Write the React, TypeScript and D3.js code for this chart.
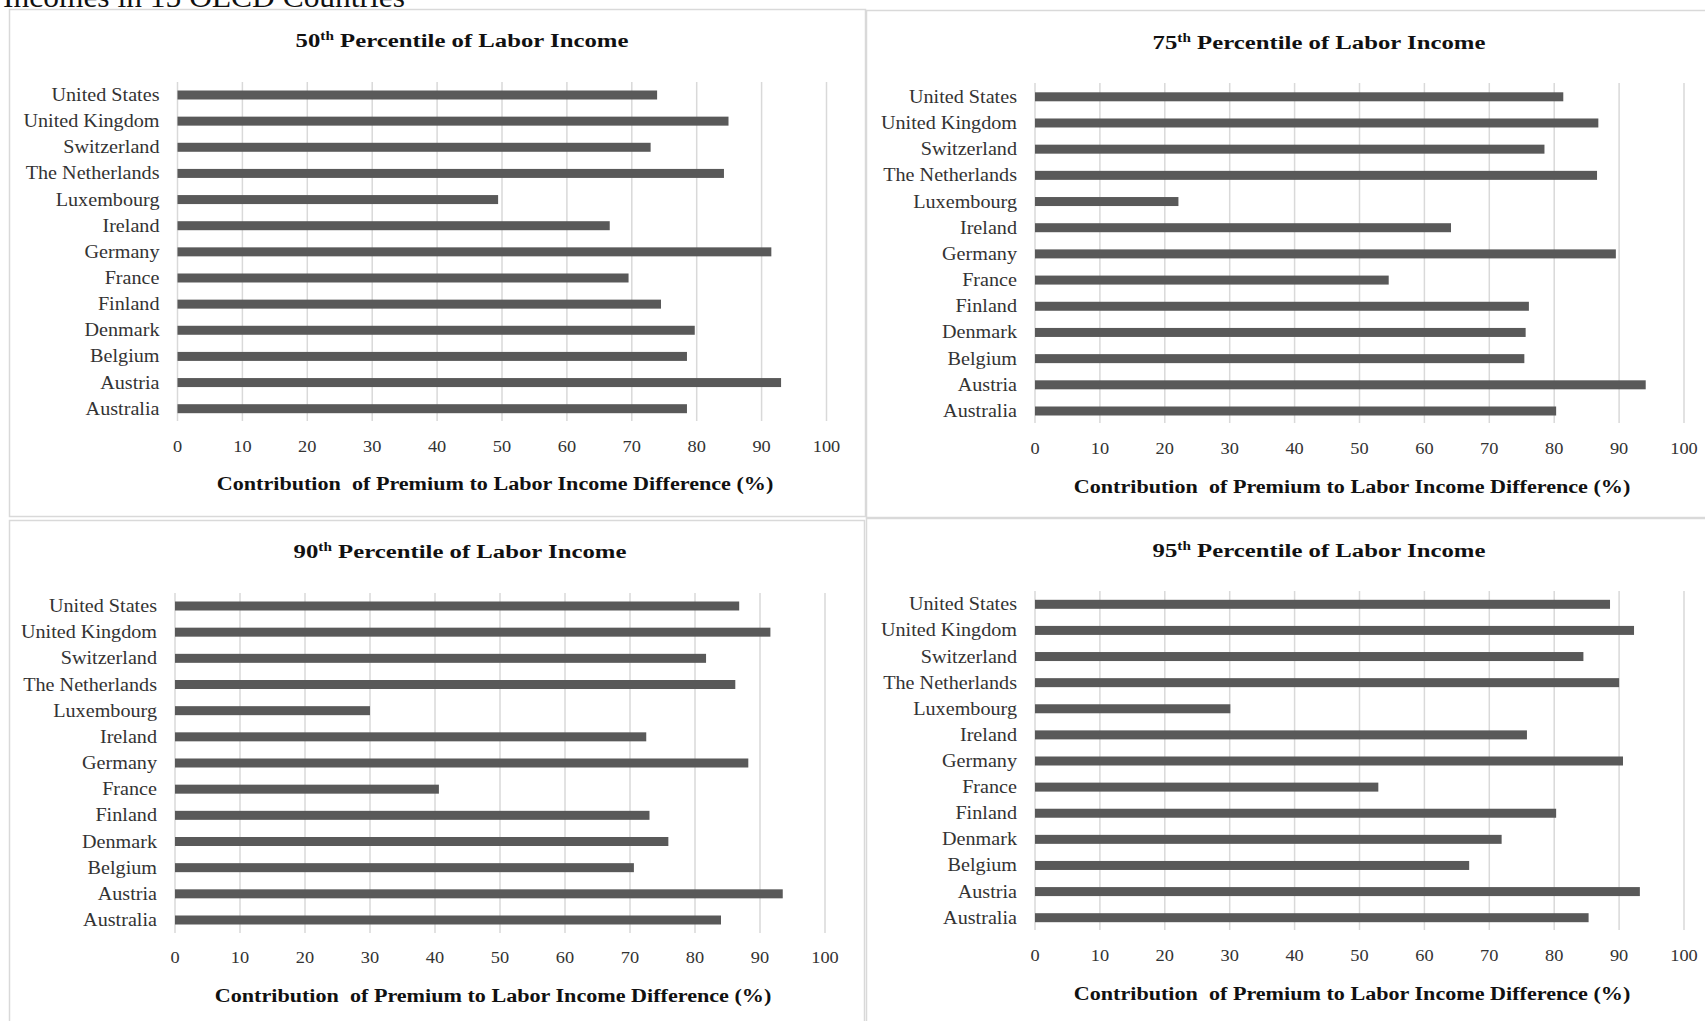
import React from "react";
import * as d3 from "d3";

const countries = [
  "United States",
  "United Kingdom",
  "Switzerland",
  "The Netherlands",
  "Luxembourg",
  "Ireland",
  "Germany",
  "France",
  "Finland",
  "Denmark",
  "Belgium",
  "Austria",
  "Australia",
];
const p50 = [73.9, 84.9, 72.9, 84.2, 49.4, 66.6, 91.5, 69.5, 74.5, 79.7, 78.5, 93.0, 78.5];
const p75 = [81.4, 86.8, 78.5, 86.6, 22.1, 64.1, 89.5, 54.5, 76.1, 75.6, 75.4, 94.1, 80.3];
const p90 = [86.8, 91.6, 81.7, 86.2, 30.0, 72.5, 88.2, 40.6, 73.0, 75.9, 70.6, 93.5, 84.0];
const p95 = [88.6, 92.3, 84.5, 90.0, 30.1, 75.8, 90.6, 52.9, 80.3, 71.9, 66.9, 93.2, 85.3];
const xTicks = [0, 10, 20, 30, 40, 50, 60, 70, 80, 90, 100];
const percentileLabels = ["50", "75", "90", "95"];
const titleRest = " Percentile of Labor Income";
const xAxisTitle = "Contribution\u00a0 of Premium to Labor Income Difference (%)";
const pageHeading = "Incomes in 15 OECD Countries";

const FONT = "'Liberation Serif', 'Times New Roman', serif";
const BAR = "#595959";
const GRID = "#d9d9d9";

type Layout = {
  bx: number; by: number; bw: number; bh: number;
  x0: number; x1: number;
  yFirst: number; yLast: number;
  gTop: number; gBot: number;
  tickY: number; xTitleX: number; xTitleY: number;
  titleX: number; titleY: number;
};

const layouts: Layout[] = [
  { bx: 9.5, by: 9.5, bw: 856, bh: 507, x0: 177.5, x1: 826.5, yFirst: 95, yLast: 408.7, gTop: 82, gBot: 421, tickY: 452, xTitleX: 495, xTitleY: 490, titleX: 462, titleY: 47 },
  { bx: 866.5, by: 10.5, bw: 845, bh: 507, x0: 1035, x1: 1684, yFirst: 96.8, yLast: 411, gTop: 83, gBot: 423, tickY: 454, xTitleX: 1352, xTitleY: 493, titleX: 1319, titleY: 49 },
  { bx: 9.5, by: 520.5, bw: 855, bh: 510, x0: 175, x1: 825, yFirst: 606, yLast: 920, gTop: 593, gBot: 933, tickY: 963, xTitleX: 493, xTitleY: 1002, titleX: 460, titleY: 558 },
  { bx: 866.5, by: 518.5, bw: 845, bh: 510, x0: 1035, x1: 1684, yFirst: 604.3, yLast: 917.7, gTop: 591, gBot: 930, tickY: 961, xTitleX: 1352, xTitleY: 1000, titleX: 1319, titleY: 557 },
];

const series = [p50, p75, p90, p95];

function Panel({ values, label, L }: { values: number[]; label: string; L: Layout }) {
  const x = d3.scaleLinear().domain([0, 100]).range([L.x0, L.x1]);
  const y = d3.scalePoint<string>().domain(countries).range([L.yFirst, L.yLast]);
  const barH = 9;
  return (
    <g>
      <rect x={L.bx} y={L.by} width={L.bw} height={L.bh} fill="#fff" stroke={GRID} strokeWidth={1.5} />
      <text
        transform={`translate(${L.titleX},${L.titleY}) scale(1.27,1)`}
        textAnchor="middle"
        fontFamily={FONT}
        fontWeight="bold"
        fontSize={19.5}
        fill="#111"
      >
        {label}
        <tspan fontSize={12} dy={-7}>th</tspan>
        <tspan dy={7}>{titleRest}</tspan>
      </text>
      {xTicks.map((t) => (
        <line key={"g" + t} x1={x(t)} x2={x(t)} y1={L.gTop} y2={L.gBot} stroke={GRID} strokeWidth={1.5} />
      ))}
      {countries.map((c, i) => (
        <g key={c}>
          <rect x={x(0)} y={(y(c) as number) - barH / 2} width={x(values[i]) - x(0)} height={barH} fill={BAR} />
          <text
            transform={`translate(${L.x0 - 18},${(y(c) as number) + 6}) scale(1.12,1)`}
            textAnchor="end"
            fontFamily={FONT}
            fontSize={18}
            fill="#333"
          >
            {c}
          </text>
        </g>
      ))}
      {xTicks.map((t) => (
        <text
          key={"t" + t}
          transform={`translate(${x(t)},${L.tickY}) scale(1.08,1)`}
          textAnchor="middle"
          fontFamily={FONT}
          fontSize={17}
          fill="#333"
        >
          {t}
        </text>
      ))}
      <text
        transform={`translate(${L.xTitleX},${L.xTitleY}) scale(1.165,1)`}
        textAnchor="middle"
        fontFamily={FONT}
        fontWeight="bold"
        fontSize={19}
        fill="#111"
      >
        {xAxisTitle}
      </text>
    </g>
  );
}

export default function App() {
  return (
    <svg width={1705} height={1021} style={{ position: "absolute", left: 0, top: 0, background: "#fff" }}>
      <rect x={0} y={0} width={1705} height={1021} fill="#fff" />
      <text x={3} y={7} fontFamily={FONT} fontSize={30} textLength={402} lengthAdjust="spacingAndGlyphs" fill="#111">
        {pageHeading}
      </text>
      {layouts.map((L, i) => (
        <Panel key={i} values={series[i]} label={percentileLabels[i]} L={L} />
      ))}
    </svg>
  );
}
